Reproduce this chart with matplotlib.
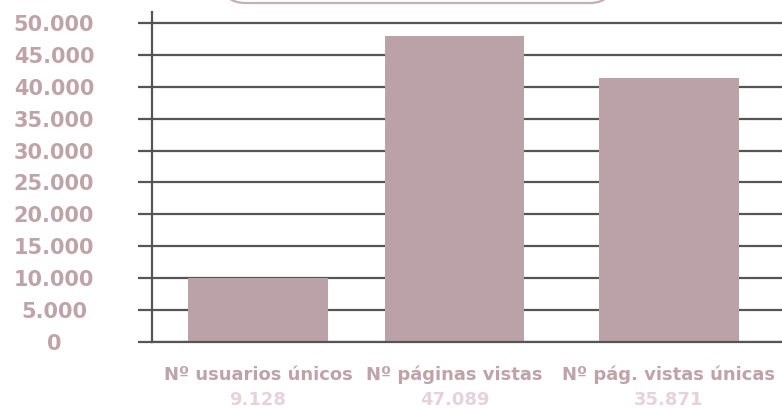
import matplotlib
matplotlib.use("Agg")
import matplotlib.pyplot as plt
from matplotlib.patches import FancyBboxPatch
import numpy as np

categories = ["Nº usuarios únicos", "Nº páginas vistas", "Nº pág. vistas únicas"]
value_labels = ["9.128", "47.089", "35.871"]
bar_values = [10000, 48000, 41400]
yticks = [0, 5000, 10000, 15000, 20000, 25000, 30000, 35000, 40000, 45000, 50000]
ytick_labels = ["0", "5.000", "10.000", "15.000", "20.000", "25.000", "30.000",
                "35.000", "40.000", "45.000", "50.000"]

BAR = "#bba2a9"
LABEL = "#bfa3aa"
VALUE = "#e6d2dc"
GRID = "#555555"
DPI = 100
W, H = 782, 409

# layout: slot positions of the bars (the original is slightly uneven)
slots = np.array([0.0, 0.956, 2.0])

plt.rcParams['font.family'] = ['DejaVu Sans']
fig = plt.figure(figsize=(W / DPI, H / DPI), dpi=DPI)
ax = fig.add_axes([152 / W, (H - 342) / H, (W - 152) / W, 330 / H])

ax.set_axisbelow(True)
ax.yaxis.grid(True, color=GRID, linewidth=1.6)
ax.bar(slots, bar_values, width=0.68, color=BAR, zorder=3)

ax.set_xlim(-0.516, 2.55)
ax.set_ylim(0, 51724)
ax.set_yticks(yticks)
ax.set_yticklabels(ytick_labels, ha="center")
px = 72 / DPI
ax.tick_params(axis="y", length=14 * px, width=1.6, color=GRID,
               pad=84 * px, labelsize=15, labelcolor=LABEL)
for t in ax.get_yticklabels():
    t.set_fontweight("bold")
ax.tick_params(axis="x", length=0, labelbottom=False)

for s in ["top", "right"]:
    ax.spines[s].set_visible(False)
for s in ["left", "bottom"]:
    ax.spines[s].set_color(GRID)
    ax.spines[s].set_linewidth(1.6)
    ax.spines[s].set_zorder(4)

for xi, cat, val in zip(slots, categories, value_labels):
    ax.annotate(cat, xy=(xi, 0), xycoords=("data", "axes fraction"),
                xytext=(0, -32.5 * px), textcoords="offset points",
                ha="center", va="center", fontsize=13, fontweight="bold",
                color=LABEL, annotation_clip=False)
    ax.annotate(val, xy=(xi, 0), xycoords=("data", "axes fraction"),
                xytext=(0, -58 * px), textcoords="offset points",
                ha="center", va="center", fontsize=13, fontweight="bold",
                color=VALUE, annotation_clip=False)

box = FancyBboxPatch((222 / W, (H - 3) / H), (613 - 222) / W, 40 / H,
                     boxstyle="round,pad=0,rounding_size=0.03",
                     transform=fig.transFigure, facecolor="white",
                     edgecolor="#c6aeb4", linewidth=1.6, clip_on=False,
                     mutation_aspect=W / H)
fig.patches.append(box)

fig.savefig("out.png", dpi=DPI)
